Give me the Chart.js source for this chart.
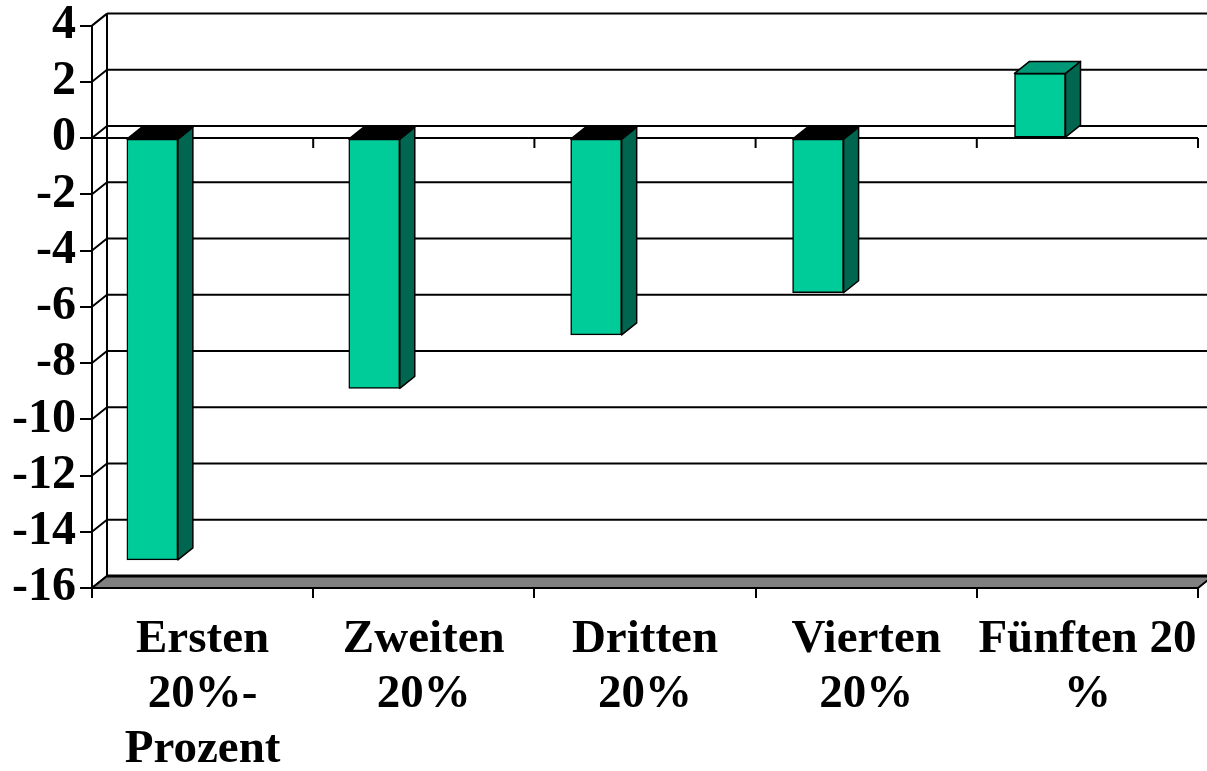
<!DOCTYPE html>
<html>
<head>
<meta charset="utf-8">
<script src="https://cdn.jsdelivr.net/npm/chart.js@4.4.0/dist/chart.umd.min.js"></script>
<style>
  html, body { margin: 0; padding: 0; background: #fff; }
  #wrap { width: 1207px; height: 771px; }
</style>
</head>
<body>
<div id="wrap"><canvas id="chart"></canvas></div>
<script>
// ------------- DATA -------------
const categories = [
  ["Ersten", "20%-", "Prozent"],
  ["Zweiten", "20%"],
  ["Dritten", "20%"],
  ["Vierten", "20%"],
  ["Fünften 20", "%"]
];
const values = [-15, -8.9, -7.0, -5.5, 2.3];
const yMin = -16, yMax = 4, yStep = 2;

// ------------- STYLE -------------
const FONT = '"Liberation Serif", "Times New Roman", serif';
const FRONT = '#00CC99', SIDE = '#006650', TOP_POS = '#009977', TOP_NEG = '#000000';
const FLOOR = '#808080';
const DEPTH = { dx: 15, dy: 12 };   // 3d offset of back wall / bar depth

// draws the back wall, floor and the 3d faces of the bars
const threeD = {
  id: 'threeD',
  beforeDatasetsDraw(chart){
    const { ctx, chartArea: a, scales: { y, x } } = chart;
    const { dx, dy } = DEPTH;
    ctx.save();
    ctx.strokeStyle = '#000';
    ctx.lineWidth = 2;
    // back wall grid + side wall diagonals
    y.ticks.forEach(t => {
      const py = y.getPixelForValue(t.value);
      ctx.beginPath();
      ctx.moveTo(a.left + dx, py - dy);
      ctx.lineTo(chart.width + 20, py - dy);
      ctx.moveTo(a.left, py);
      ctx.lineTo(a.left + dx, py - dy);
      ctx.stroke();
    });
    ctx.beginPath();
    ctx.moveTo(a.left + dx, y.getPixelForValue(yMax) - dy);
    ctx.lineTo(a.left + dx, y.getPixelForValue(yMin) - dy);
    ctx.stroke();

    // floor
    const fb = y.getPixelForValue(yMin);
    ctx.beginPath();
    ctx.moveTo(a.left, fb);
    ctx.lineTo(a.left + dx, fb - dy);
    ctx.lineTo(a.right + dx, fb - dy);
    ctx.lineTo(a.right, fb);
    ctx.closePath();
    ctx.fillStyle = FLOOR;
    ctx.fill();
    ctx.lineWidth = 2;
    ctx.stroke();
    ctx.lineWidth = 3;
    ctx.beginPath();
    ctx.moveTo(a.left + dx, fb - dy);
    ctx.lineTo(a.right + dx, fb - dy);
    ctx.stroke();

    // front zero line with category ticks
    const y0 = y.getPixelForValue(0);
    const half = (x.getPixelForValue(1) - x.getPixelForValue(0)) / 2;
    ctx.lineWidth = 2;
    ctx.beginPath();
    ctx.moveTo(a.left, y0);
    ctx.lineTo(a.right, y0);
    categories.forEach((c, i) => {
      const px = x.getPixelForValue(i) + half;
      ctx.moveTo(px, y0);
      ctx.lineTo(px, y0 + 10);
    });
    ctx.stroke();
    ctx.restore();
  },
  afterDatasetsDraw(chart){
    const { ctx } = chart;
    const { dx, dy } = DEPTH;
    const meta = chart.getDatasetMeta(0);
    ctx.save();
    ctx.strokeStyle = '#000';
    ctx.lineWidth = 1.5;
    ctx.lineJoin = 'round';
    meta.data.forEach((bar, i) => {
      const p = bar.getProps(['x', 'y', 'base', 'width'], true);
      const l = p.x - p.width / 2, r = p.x + p.width / 2;
      const top = Math.min(p.y, p.base), bot = Math.max(p.y, p.base);
      // side
      ctx.beginPath();
      ctx.moveTo(r, top);
      ctx.lineTo(r + dx, top - dy);
      ctx.lineTo(r + dx, bot - dy);
      ctx.lineTo(r, bot);
      ctx.closePath();
      ctx.fillStyle = SIDE;
      ctx.fill();
      ctx.stroke();
      // top
      ctx.beginPath();
      ctx.moveTo(l, top);
      ctx.lineTo(l + dx, top - dy);
      ctx.lineTo(r + dx, top - dy);
      ctx.lineTo(r, top);
      ctx.closePath();
      ctx.fillStyle = values[i] < 0 ? TOP_NEG : TOP_POS;
      ctx.fill();
      ctx.stroke();
    });
    ctx.restore();
  }
};

new Chart(document.getElementById('chart'), {
  type: 'bar',
  data: {
    labels: categories,
    datasets: [{
      data: values.map((v, i) => ({ x: i, y: v })),
      xAxisID: 'xb',
      yAxisID: 'y',
      backgroundColor: FRONT,
      borderColor: '#000',
      borderWidth: 1.5,
      borderSkipped: false,
      barThickness: 51
    }]
  },
  options: {
    responsive: true,
    maintainAspectRatio: false,
    animation: false,
    layout: { padding: { top: 23, right: 9, left: 0, bottom: 0 } },
    plugins: { legend: { display: false }, tooltip: { enabled: false } },
    scales: {
      x: {
        type: 'category',
        offset: true,
        afterFit(s){ s.height = 183; s.paddingLeft = 0; s.paddingRight = 0; },
        grid: { offset: true, drawOnChartArea: false, drawTicks: true, tickLength: 10, color: '#000', lineWidth: 2 },
        border: { display: true, color: '#000', width: 2 },
        ticks: {
          color: '#000', autoSkip: false, maxRotation: 0, padding: 14,
          font: { family: FONT, size: 47, weight: 'bold', lineHeight: 1.17 }
        }
      },
      // bars sit left of the category centres (3d projection), so they use their own hidden axis
      xb: {
        type: 'linear',
        display: false,
        offset: false,
        min: -0.272,
        max: 4.712
      },
      y: {
        min: yMin, max: yMax,
        afterFit(s){ s.width = 92; },
        grid: { drawOnChartArea: false, drawTicks: true, tickLength: 12, color: '#000', lineWidth: 2 },
        border: { display: true, color: '#000', width: 2 },
        ticks: {
          stepSize: yStep, autoSkip: false, color: '#000', padding: 4,
          font: { family: FONT, size: 48, weight: 'bold', lineHeight: 0.9 }
        }
      }
    }
  },
  plugins: [threeD]
});
</script>
</body>
</html>
